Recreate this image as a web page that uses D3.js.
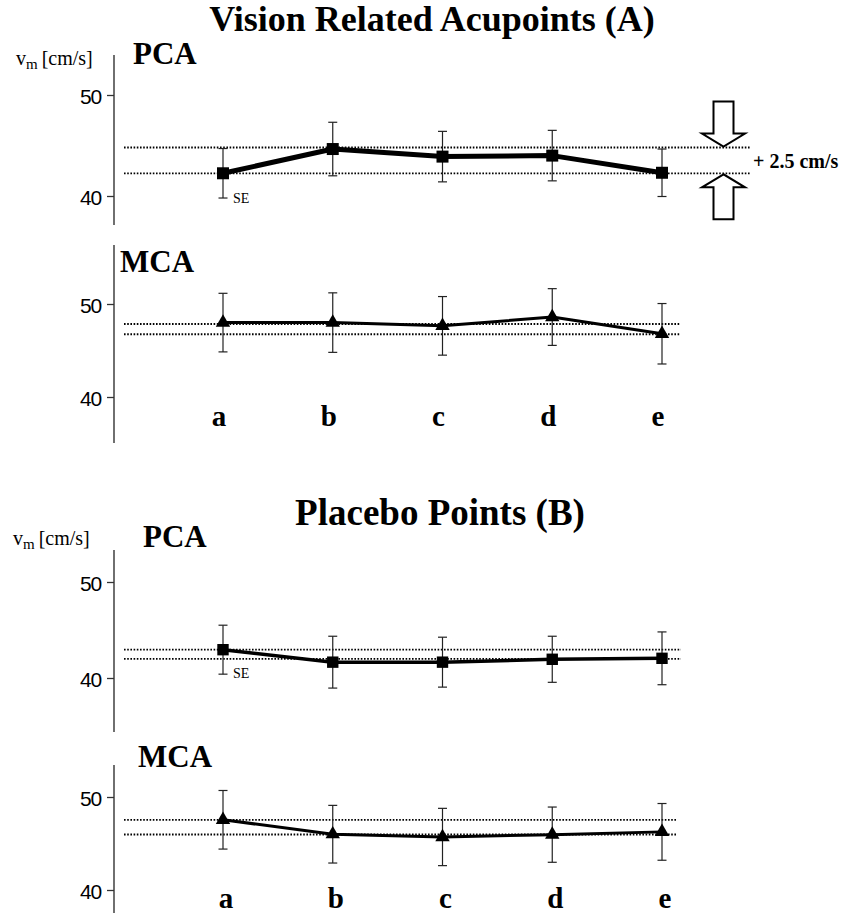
<!DOCTYPE html>
<html><head><meta charset="utf-8">
<script src="https://cdn.jsdelivr.net/npm/d3@7/dist/d3.min.js"></script>
<style>body{margin:0;background:#fff}svg{display:block}</style>
</head><body>
<svg id="c" width="858" height="913"></svg>
<script>
// ---- data ----
const categories = ['a','b','c','d','e'];
const yTicks = [40, 50];
const aPcaMean = [42.25, 44.65, 43.9, 44.0, 42.3];
const aPcaSE   = [2.45, 2.65, 2.5, 2.5, 2.35];
const aPcaRef  = [44.8, 42.25];
const aMcaMean = [48.0, 48.0, 47.65, 48.6, 46.8];
const aMcaSE   = [3.15, 3.2, 3.15, 3.05, 3.25];
const aMcaRef  = [47.85, 46.75];
const bPcaMean = [42.95, 41.65, 41.65, 41.95, 42.05];
const bPcaSE   = [2.55, 2.7, 2.6, 2.4, 2.75];
const bPcaRef  = [42.95, 42.0];
const bMcaMean = [47.55, 46.0, 45.7, 45.95, 46.25];
const bMcaSE   = [3.15, 3.1, 3.08, 2.97, 3.05];
const bMcaRef  = [47.55, 45.97];
const titles = ['Vision Related Acupoints (A)', 'Placebo Points (B)'];
const diffLabel = '+ 2.5 cm/s';

// ---- layout ----
const serif = "'Liberation Serif','Times New Roman',serif";
const sans = "'Liberation Sans',Arial,sans-serif";
const svg = d3.select('#c');
const x = d3.scalePoint().domain(categories).range([223, 662]);
const axisX = 114;

const panels = [
  {mean:aPcaMean, se:aPcaSE, ref:aPcaRef, marker:d3.symbolSquare, msize:144, lw:5,
   yr:[196,95], top:55, bot:225, label:'PCA', lx:133, ly:64, refX2:750, vm:[16,65], seLab:[233,203], arrows:true},
  {mean:aMcaMean, se:aMcaSE, ref:aMcaRef, marker:d3.symbolTriangle, msize:90, lw:3,
   yr:[397,304], top:245, bot:443, label:'MCA', lx:120, ly:272, refX2:680, cat:[426,-4]},
  {mean:bPcaMean, se:bPcaSE, ref:bPcaRef, marker:d3.symbolSquare, msize:130, lw:3.5,
   yr:[678,582], top:550, bot:732, label:'PCA', lx:143, ly:547, refX2:681, vm:[13,545], seLab:[233,678]},
  {mean:bMcaMean, se:bMcaSE, ref:bMcaRef, marker:d3.symbolTriangle, msize:90, lw:3,
   yr:[890,797], top:765, bot:913, label:'MCA', lx:138, ly:767, refX2:677, cat:[908,3]}
];

// titles
svg.append('text').attr('x', 432).attr('y', 31).attr('text-anchor','middle')
  .attr('font-family', serif).attr('font-weight','bold').attr('font-size', 36).text(titles[0]);
svg.append('text').attr('x', 440).attr('y', 525).attr('text-anchor','middle')
  .attr('font-family', serif).attr('font-weight','bold').attr('font-size', 37).text(titles[1]);

panels.forEach(p => {
  const y = d3.scaleLinear().domain([40, 50]).range(p.yr);
  const g = svg.append('g');

  // axis
  const ax = d3.axisLeft(y).tickValues(yTicks).tickSize(7).tickPadding(6).tickFormat(d3.format('d'));
  const ag = g.append('g').attr('transform', `translate(${axisX},0)`).call(ax);
  ag.select('.domain').remove();
  ag.selectAll('.tick line').attr('stroke','#333').attr('stroke-width',1.3);
  ag.selectAll('.tick text').attr('font-family', sans).attr('font-size', 21)
    .attr('letter-spacing', -1.2).attr('fill','#000').attr('dy','0.42em');
  g.append('line').attr('x1',axisX).attr('x2',axisX).attr('y1',p.top).attr('y2',p.bot)
    .attr('stroke','#333').attr('stroke-width',1.4);

  // panel label
  g.append('text').attr('x',p.lx).attr('y',p.ly).attr('font-family',serif).attr('font-weight','bold')
    .attr('font-size',31).text(p.label);

  // v_m label
  if (p.vm) {
    const t = g.append('text').attr('x',p.vm[0]).attr('y',p.vm[1]).attr('font-family',serif).attr('font-size',20);
    t.append('tspan').text('v');
    t.append('tspan').attr('font-size',15).attr('dy',4).text('m');
    t.append('tspan').attr('font-size',20).attr('dy',-4).attr('dx',4).text('[cm/s]');
  }

  // reference dotted lines
  g.selectAll('line.ref').data(p.ref).enter().append('line')
    .attr('x1',124).attr('x2',p.refX2).attr('y1',d=>y(d)).attr('y2',d=>y(d))
    .attr('stroke','#000').attr('stroke-width',1.8).attr('stroke-dasharray','1.6,1.6');

  // error bars
  const data = categories.map((c,i)=>({c, m:p.mean[i], s:p.se[i]}));
  const eb = g.selectAll('g.eb').data(data).enter().append('g').attr('stroke','#222').attr('stroke-width',1.2);
  eb.append('line').attr('x1',d=>x(d.c)).attr('x2',d=>x(d.c)).attr('y1',d=>y(d.m+d.s)).attr('y2',d=>y(d.m-d.s));
  eb.append('line').attr('x1',d=>x(d.c)-4.5).attr('x2',d=>x(d.c)+4.5).attr('y1',d=>y(d.m+d.s)).attr('y2',d=>y(d.m+d.s));
  eb.append('line').attr('x1',d=>x(d.c)-4.5).attr('x2',d=>x(d.c)+4.5).attr('y1',d=>y(d.m-d.s)).attr('y2',d=>y(d.m-d.s));

  // line
  g.append('path').datum(data).attr('fill','none').attr('stroke','#000').attr('stroke-width',p.lw)
    .attr('stroke-linejoin','round')
    .attr('d', d3.line().x(d=>x(d.c)).y(d=>y(d.m)));

  // markers
  g.selectAll('path.mk').data(data).enter().append('path')
    .attr('transform',d=>`translate(${x(d.c)},${y(d.m)})`)
    .attr('d', d3.symbol().type(p.marker).size(p.msize)).attr('fill','#000');

  // SE label
  if (p.seLab) {
    g.append('text').attr('x',p.seLab[0]).attr('y',p.seLab[1]).attr('font-family',serif)
      .attr('font-size',14).text('SE');
  }

  // category labels
  if (p.cat) {
    g.selectAll('text.cat').data(categories).enter().append('text')
      .attr('x',d=>x(d)+p.cat[1]).attr('y',p.cat[0]).attr('text-anchor','middle')
      .attr('font-family',serif).attr('font-weight','bold').attr('font-size',29).text(d=>d);
  }

  // arrows
  if (p.arrows) {
    const tipX = 723.5;
    const arrow = (ty, dir) => {
      // dir = +1 : pointing down (tip at bottom); -1 : pointing up
      const hh = 13, hw = 21.5, sw = 10, sl = 32;
      const b = ty - dir*hh, e = b - dir*sl;
      return `M${tipX},${ty} L${tipX-hw},${b} L${tipX-sw},${b} L${tipX-sw},${e} L${tipX+sw},${e} L${tipX+sw},${b} L${tipX+hw},${b} Z`;
    };
    g.append('path').attr('d', arrow(y(p.ref[0]) - 1, 1)).attr('fill','#fff').attr('stroke','#000').attr('stroke-width',2);
    g.append('path').attr('d', arrow(y(p.ref[1]) + 1, -1)).attr('fill','#fff').attr('stroke','#000').attr('stroke-width',2);
    g.append('text').attr('x',753).attr('y',168).attr('font-family',serif).attr('font-weight','bold')
      .attr('font-size',20).text(diffLabel);
  }
});
</script>
</body></html>
